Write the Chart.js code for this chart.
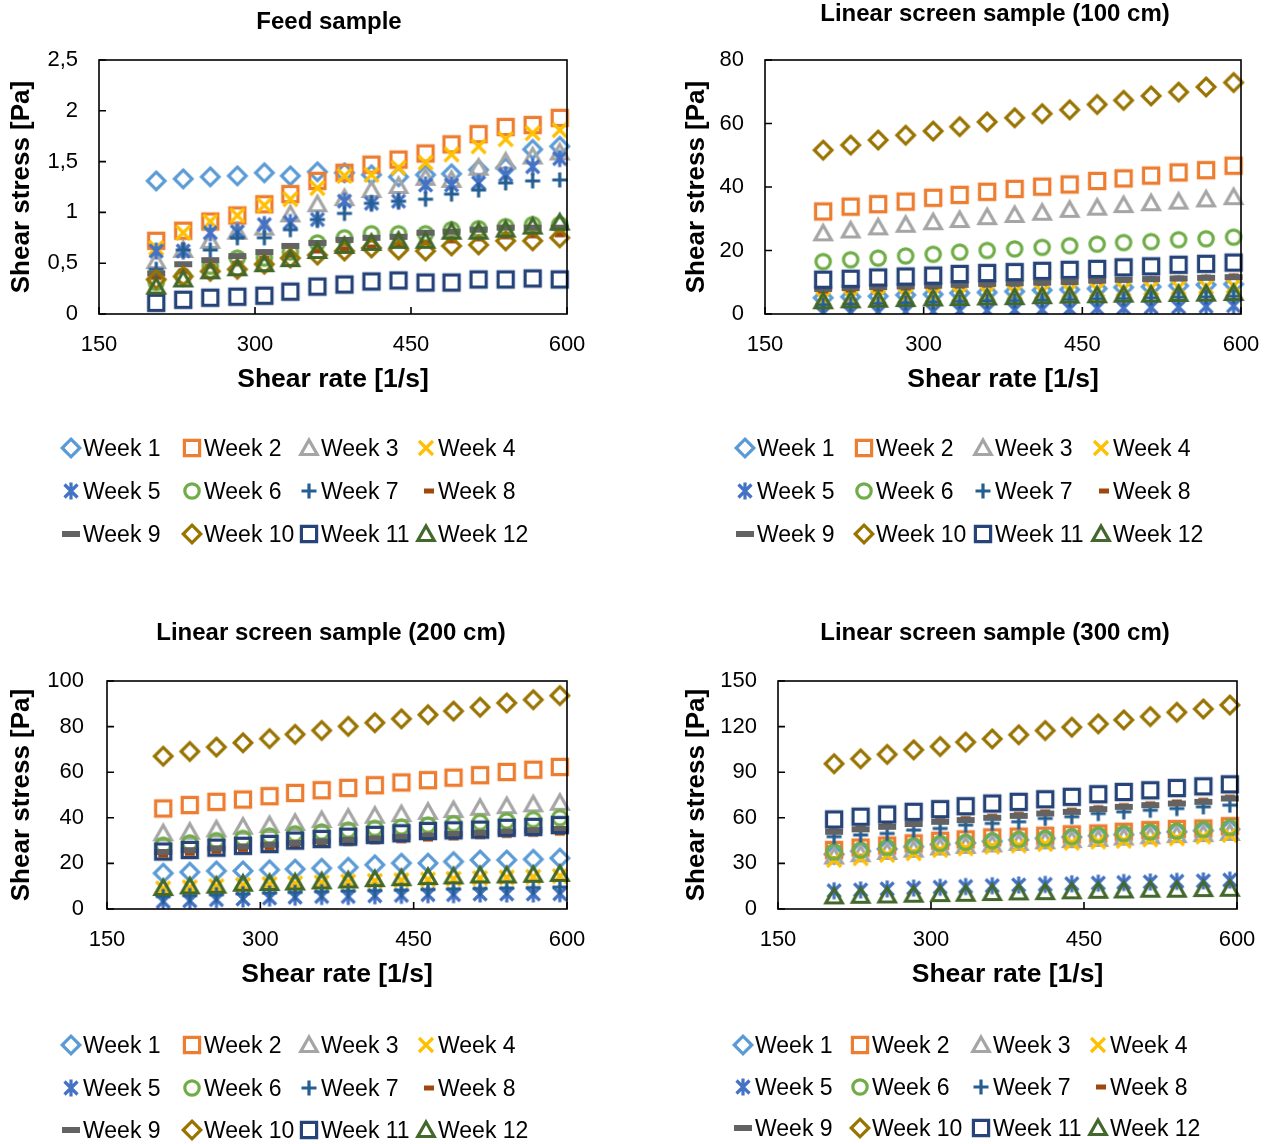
<!DOCTYPE html>
<html>
<head>
<meta charset="utf-8">
<script src="https://cdn.jsdelivr.net/npm/chart.js@4.4.0/dist/chart.umd.min.js"></script>
<style>
  html, body { margin: 0; padding: 0; background: #fff; }
  body { width: 1271px; height: 1144px; position: relative; overflow: hidden; font-family: 'Liberation Sans', Arial, sans-serif; color: #000; }
  .cv { position: absolute; }
  .title { position: absolute; font-weight: bold; font-size: 24px; transform: translate(-50%, -50%); white-space: nowrap; line-height: 1; }
  .leg { position: absolute; font-size: 23px; white-space: nowrap; transform: translateY(-50%); line-height: 1; }
  .sym { position: absolute; transform: translate(-50%, -50%); }
</style>
</head>
<body>
<script>
// ---------------- DATA ----------------
const shearRate = [205, 231, 257, 283, 309, 334, 360, 386, 412, 438, 464, 489, 515, 541, 567, 593];
const weekNames = ['Week 1','Week 2','Week 3','Week 4','Week 5','Week 6','Week 7','Week 8','Week 9','Week 10','Week 11','Week 12'];
const panelTitles = ['Feed sample', 'Linear screen sample (100 cm)', 'Linear screen sample (200 cm)', 'Linear screen sample (300 cm)'];
const xTitle = 'Shear rate [1/s]';
const yTitle = 'Shear stress [Pa]';
const xTickValues = [150, 300, 450, 600];
const feedYTicks = ['0', '0,5', '1', '1,5', '2', '2,5'];
const lin100YTicks = ['0', '20', '40', '60', '80'];
const lin200YTicks = ['0', '20', '40', '60', '80', '100'];
const lin300YTicks = ['0', '30', '60', '90', '120', '150'];

const feedStress = [
  [1.31,1.33,1.35,1.36,1.39,1.36,1.40,1.39,1.37,1.35,1.37,1.38,1.42,1.44,1.62,1.65],
  [0.72,0.82,0.91,0.97,1.08,1.18,1.31,1.39,1.47,1.52,1.58,1.67,1.77,1.84,1.86,1.93],
  [0.52,0.63,0.72,0.81,0.85,0.98,1.08,1.14,1.22,1.26,1.34,1.32,1.44,1.50,1.55,1.59],
  [0.65,0.80,0.91,0.97,1.07,1.13,1.24,1.36,1.37,1.44,1.49,1.57,1.65,1.72,1.78,1.81],
  [0.62,0.62,0.80,0.81,0.88,0.90,0.93,1.11,1.09,1.11,1.27,1.27,1.29,1.37,1.45,1.53],
  [0.31,0.37,0.47,0.55,0.55,0.61,0.70,0.75,0.79,0.79,0.79,0.83,0.84,0.86,0.88,0.88],
  [0.44,0.63,0.63,0.75,0.75,0.83,0.93,0.99,1.09,1.11,1.13,1.18,1.22,1.29,1.31,1.32],
  [0.36,0.42,0.47,0.50,0.55,0.58,0.62,0.64,0.66,0.68,0.70,0.72,0.74,0.76,0.77,0.78],
  [0.40,0.49,0.53,0.57,0.61,0.67,0.70,0.73,0.75,0.76,0.80,0.81,0.83,0.85,0.85,0.85],
  [0.34,0.37,0.42,0.44,0.49,0.55,0.58,0.62,0.65,0.63,0.62,0.67,0.68,0.72,0.72,0.75],
  [0.11,0.14,0.16,0.17,0.18,0.22,0.27,0.29,0.32,0.33,0.31,0.31,0.34,0.34,0.35,0.34],
  [0.27,0.34,0.42,0.45,0.49,0.54,0.62,0.67,0.70,0.72,0.72,0.81,0.81,0.83,0.86,0.90]
];
const lin100Stress = [
  [5.1,5.4,5.6,6.0,6.2,6.6,6.8,7.1,7.5,7.7,8.0,8.4,8.6,8.9,9.2,9.4],
  [32.3,33.8,34.6,35.4,36.6,37.5,38.5,39.4,40.1,40.8,41.9,42.7,43.6,44.6,45.3,46.7],
  [25.4,26.3,27.3,28.1,28.9,29.6,30.5,31.2,31.9,32.8,33.5,34.3,34.9,35.4,36.1,36.8],
  [4.9,5.2,5.4,5.7,6.0,6.2,6.5,6.8,7.0,7.3,7.6,7.8,8.1,8.3,8.6,8.8],
  [0.2,0.4,0.5,0.7,0.8,1.0,1.1,1.3,1.4,1.6,1.8,1.9,2.1,2.2,2.4,2.6],
  [16.5,17.1,17.6,18.3,18.8,19.5,20.0,20.5,21.0,21.5,22.0,22.5,22.8,23.4,23.7,24.2],
  [2.9,3.1,3.3,3.5,3.7,3.9,4.1,4.2,4.4,4.6,4.8,4.9,5.1,5.3,5.4,5.6],
  [7.3,7.6,7.9,8.2,8.5,8.8,9.1,9.4,9.7,10.0,10.3,10.7,11.0,11.3,11.6,12.0],
  [7.9,8.2,8.5,8.7,8.9,9.2,9.5,9.7,9.9,10.1,10.5,10.8,11.0,11.2,11.4,11.6],
  [51.6,53.2,54.8,56.3,57.6,59.0,60.5,61.8,63.1,64.3,66.0,67.3,68.7,69.9,71.5,72.9],
  [10.8,11.1,11.5,11.8,12.1,12.6,12.9,13.2,13.6,13.9,14.2,14.7,15.0,15.5,15.8,16.2],
  [4.0,4.3,4.5,4.7,4.9,5.0,5.2,5.3,5.6,5.8,5.9,6.1,6.1,6.3,6.4,6.6]
];
const lin200Stress = [
  [15.7,16.2,16.7,16.7,17.2,17.5,17.9,18.3,19.4,20.1,20.1,20.8,21.5,21.5,21.8,22.3],
  [44.1,45.6,47.0,48.0,49.5,50.9,52.1,53.1,54.3,55.5,56.5,57.6,58.7,60.1,61.1,62.3],
  [33.2,33.9,34.9,36.1,36.8,37.8,39.0,40.0,40.9,41.6,42.6,43.4,44.4,45.1,45.9,46.6],
  [9.0,9.5,10.0,10.5,10.9,11.2,11.6,12.0,12.3,12.6,12.9,13.2,13.5,13.8,14.1,14.4],
  [3.3,3.6,4.1,4.4,4.8,5.2,5.5,5.5,5.8,6.0,6.3,6.3,6.6,6.6,6.6,6.7],
  [28.0,29.0,30.0,31.0,32.0,33.0,33.8,34.6,35.4,36.0,36.8,37.4,38.0,38.6,39.2,40.0],
  [5.5,5.9,6.3,6.7,7.0,7.3,7.6,7.9,8.1,8.3,8.6,8.8,9.0,9.2,9.4,9.6],
  [23.5,24.3,25.2,26.0,26.8,27.5,28.2,28.8,29.5,30.0,30.7,31.2,31.8,32.3,32.8,33.3],
  [25.0,25.8,26.6,27.4,28.2,29.0,29.7,30.4,31.0,31.7,32.3,32.9,33.5,34.0,34.6,35.1],
  [67.0,69.1,71.0,72.9,74.7,76.6,78.3,80.1,81.7,83.4,85.2,86.8,88.5,90.4,91.8,93.6],
  [25.2,25.9,26.9,27.7,28.5,30.0,30.7,31.7,32.5,33.2,34.2,34.5,34.8,35.6,36.0,36.8],
  [9.2,9.9,10.2,11.1,11.4,11.6,12.1,12.5,13.1,13.5,14.0,14.3,14.7,14.7,15.0,15.4]
];
const lin300Stress = [
  [36.0,38.0,39.5,41.0,42.5,43.5,44.5,45.5,46.5,47.3,48.2,49.0,50.0,50.8,51.5,52.5],
  [38.8,40.4,41.7,43.2,44.9,45.8,47.1,47.6,48.2,49.1,49.7,50.8,51.9,52.6,53.0,54.5],
  [34.5,36.0,37.5,39.0,40.5,41.5,42.5,43.5,44.5,45.3,46.1,47.0,47.8,48.6,49.3,50.0],
  [32.3,33.4,35.6,36.7,38.8,39.9,41.0,41.7,42.8,43.6,44.3,44.9,45.8,46.5,47.6,48.7],
  [12.0,12.5,13.2,13.8,14.3,14.8,15.3,15.8,16.2,16.6,17.0,17.4,17.8,18.2,18.5,19.0],
  [37.7,38.8,40.6,41.7,43.2,43.9,44.9,45.8,46.5,47.6,48.7,49.7,50.8,51.3,52.4,53.7],
  [47.6,48.7,49.7,51.9,53.0,55.2,56.3,57.4,59.6,60.7,62.8,63.9,65.0,66.1,67.2,68.3],
  [51.5,53.2,55.0,56.8,58.2,59.5,61.0,62.3,63.8,65.0,66.6,68.0,69.2,70.4,71.5,73.5],
  [50.8,52.4,54.1,55.9,57.4,58.5,60.0,61.3,62.8,63.9,65.7,67.2,68.3,69.4,70.5,72.7],
  [95.6,98.8,101.7,104.7,106.9,109.8,111.9,114.6,117.4,119.6,121.8,124.4,126.6,129.4,131.6,134.2],
  [58.9,60.7,62.2,63.9,65.7,67.6,69.4,70.5,72.2,73.8,75.5,77.0,78.1,79.6,80.7,82.0],
  [8.3,8.7,8.9,9.4,9.8,10.0,10.5,10.9,11.1,11.6,12.0,12.2,12.7,12.7,13.1,13.3]
];

// ---------------- STYLE ----------------
const weekColors = ['#5B9BD5','#ED7D31','#A5A5A5','#FFC000','#4472C4','#70AD47','#255E91','#9E480E','#636363','#997300','#264478','#43682B'];
const weekMarkers = ['diamond','square','triangle','x','asterisk','circle','plus','dashS','dashL','diamond','square','triangle'];
const FONT = "'Liberation Sans', Arial, sans-serif";

function makeMarker(kind, color) {
  const c = document.createElement('canvas');
  c.width = 26; c.height = 26;
  const g = c.getContext('2d');
  const m = 13;
  g.strokeStyle = color; g.fillStyle = color;
  g.lineWidth = 3.2; g.lineJoin = 'miter'; g.lineCap = 'butt';
  g.beginPath();
  switch (kind) {
    case 'diamond':
      g.moveTo(m, m - 8.8); g.lineTo(m + 8.8, m); g.lineTo(m, m + 8.8); g.lineTo(m - 8.8, m); g.closePath(); g.stroke(); break;
    case 'square':
      g.rect(m - 7.6, m - 7.6, 15.2, 15.2); g.stroke(); break;
    case 'triangle':
      g.moveTo(m, m - 8); g.lineTo(m + 8.2, m + 6.5); g.lineTo(m - 8.2, m + 6.5); g.closePath(); g.stroke(); break;
    case 'x':
      g.moveTo(m - 7, m - 7); g.lineTo(m + 7, m + 7); g.moveTo(m + 7, m - 7); g.lineTo(m - 7, m + 7); g.stroke(); break;
    case 'asterisk':
      g.moveTo(m - 6.5, m - 6.5); g.lineTo(m + 6.5, m + 6.5); g.moveTo(m + 6.5, m - 6.5); g.lineTo(m - 6.5, m + 6.5);
      g.moveTo(m, m - 8.5); g.lineTo(m, m + 8.5); g.stroke(); break;
    case 'circle':
      g.arc(m, m, 7.2, 0, Math.PI * 2); g.stroke(); break;
    case 'plus':
      g.moveTo(m - 7.5, m); g.lineTo(m + 7.5, m); g.moveTo(m, m - 7.5); g.lineTo(m, m + 7.5); g.stroke(); break;
    case 'dashS':
      g.fillRect(m - 5, m - 2.5, 10, 5); break;
    case 'dashL':
      g.fillRect(m - 9, m - 3, 18, 6); break;
  }
  return c;
}

// frame + inner ticks
const framePlugin = {
  id: 'frame',
  afterDatasetsDraw(chart) {
    const { ctx, chartArea: a, scales } = chart;
    ctx.save();
    ctx.strokeStyle = '#000';
    ctx.lineWidth = 1.6;
    ctx.strokeRect(a.left, a.top, a.right - a.left, a.bottom - a.top);
    ctx.beginPath();
    scales.x.ticks.forEach(t => {
      const px = scales.x.getPixelForValue(t.value);
      ctx.moveTo(px, a.bottom); ctx.lineTo(px, a.bottom - 7);
    });
    scales.y.ticks.forEach(t => {
      const py = scales.y.getPixelForValue(t.value);
      ctx.moveTo(a.left, py); ctx.lineTo(a.left + 7, py);
    });
    ctx.stroke();
    ctx.restore();
  }
};

function addEl(cls, text, x, y) {
  const d = document.createElement('div');
  d.className = cls; d.textContent = text;
  d.style.left = x + 'px'; d.style.top = y + 'px';
  document.body.appendChild(d);
  return d;
}

function makePanel(p) {
  const cv = document.createElement('canvas');
  cv.className = 'cv';
  cv.width = p.w; cv.height = p.h;
  cv.style.left = p.left + 'px'; cv.style.top = p.top + 'px';
  cv.style.width = p.w + 'px'; cv.style.height = p.h + 'px';
  document.body.appendChild(cv);

  const datasets = weekNames.map((name, i) => ({
    label: name,
    data: shearRate.map((x, j) => ({ x: x, y: p.values[i][j] })),
    pointStyle: makeMarker(weekMarkers[i], weekColors[i]),
    pointRadius: 8,
    pointHoverRadius: 8,
    borderColor: weekColors[i],
    backgroundColor: weekColors[i],
    showLine: false,
    order: 12 - i,
    clip: { left: 12, right: 12, top: 12, bottom: 0 }
  }));

  new Chart(cv, {
    type: 'scatter',
    data: { datasets },
    options: {
      responsive: false,
      animation: false,
      events: [],
      devicePixelRatio: 1,
      layout: { padding: { left: p.padL, top: p.padT, right: p.padR, bottom: 0 } },
      plugins: { legend: { display: false }, tooltip: { enabled: false }, title: { display: false } },
      scales: {
        x: {
          type: 'linear', min: xTickValues[0], max: xTickValues[xTickValues.length - 1],
          afterBuildTicks: s => { s.ticks = xTickValues.map(v => ({ value: v })); },
          ticks: { padding: 17.5, color: '#000', font: { family: FONT, size: 22 }, maxRotation: 0, autoSkip: false,
                   callback: v => String(v) },
          grid: { display: false, drawTicks: false },
          border: { display: false },
          title: { display: true, text: xTitle, color: '#000', font: { family: FONT, size: 26.5, weight: 'bold' }, padding: { top: 0, bottom: 4 } },
          afterFit: s => { s.height = 86; s.paddingLeft = 0; s.paddingRight = 0; }
        },
        y: {
          type: 'linear', min: 0, max: p.yMax,
          afterBuildTicks: s => { s.ticks = p.yLabels.map((l, k) => ({ value: k * p.yStep })); },
          ticks: { padding: p.yTickPad, color: '#000', font: { family: FONT, size: 22 }, autoSkip: false,
                   callback: (v, idx) => p.yLabels[idx] },
          grid: { display: false, drawTicks: false },
          border: { display: false },
          title: { display: true, text: yTitle, color: '#000', font: { family: FONT, size: 26, weight: 'bold' }, padding: { top: 6.4, bottom: 0 } },
          afterFit: s => { s.width = p.yWidth; s.paddingTop = 0; s.paddingBottom = 0; }
        }
      }
    },
    plugins: [framePlugin]
  });

  addEl('title', p.title, p.titleX, p.titleY);

  // legend
  weekNames.forEach((name, i) => {
    const col = i % 4, row = Math.floor(i / 4);
    const tx = p.legCols[col], ty = p.legRows[row];
    const sym = makeMarker(weekMarkers[i], weekColors[i]);
    sym.className = 'sym';
    sym.style.left = (tx - (weekMarkers[i] === 'dashS' ? 9 : 12)) + 'px';
    sym.style.top = ty + 'px';
    document.body.appendChild(sym);
    addEl('leg', name, tx, ty);
  });
}

const panels = [
  { title: panelTitles[0], titleX: 329, titleY: 21, values: feedStress, yMax: 2.5, yStep: 0.5, yLabels: feedYTicks,
    left: 0, top: 0, w: 636, h: 400, padL: 0, padT: 60, padR: 69, yWidth: 99, yTickPad: 21,
    legCols: [83, 204, 321, 438], legRows: [448, 491, 534] },
  { title: panelTitles[1], titleX: 995, titleY: 13, values: lin100Stress, yMax: 80, yStep: 20, yLabels: lin100YTicks,
    left: 636, top: 0, w: 635, h: 400, padL: 39, padT: 60, padR: 30, yWidth: 90, yTickPad: 21,
    legCols: [757, 876, 995, 1113], legRows: [448, 491, 534] },
  { title: panelTitles[2], titleX: 331, titleY: 632, values: lin200Stress, yMax: 100, yStep: 20, yLabels: lin200YTicks,
    left: 0, top: 620, w: 636, h: 375, padL: 0, padT: 61, padR: 69, yWidth: 107, yTickPad: 23,
    legCols: [83, 204, 321, 438], legRows: [1045, 1088, 1130] },
  { title: panelTitles[3], titleX: 995, titleY: 632, values: lin300Stress, yMax: 150, yStep: 30, yLabels: lin300YTicks,
    left: 636, top: 620, w: 635, h: 375, padL: 39, padT: 61, padR: 34, yWidth: 103, yTickPad: 21,
    legCols: [755, 872, 993, 1110], legRows: [1045, 1087, 1128] }
];

panels.forEach(makePanel);
</script>
</body>
</html>
